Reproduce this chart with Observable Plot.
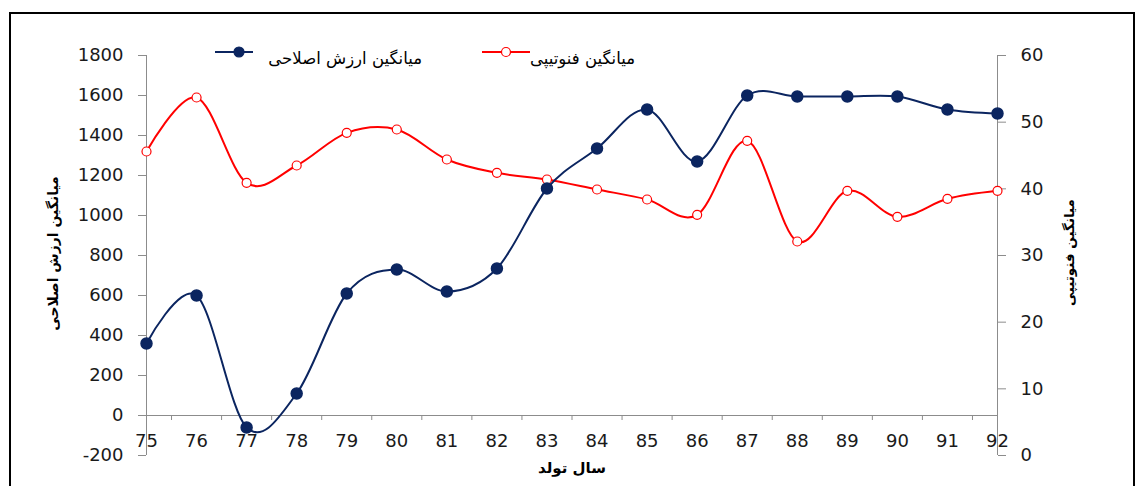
<!DOCTYPE html>
<html>
<head>
<meta charset="utf-8">
<script src="https://cdn.jsdelivr.net/npm/d3@7"></script>
<script src="https://cdn.jsdelivr.net/npm/@observablehq/plot@0.6"></script>
<style>
  html, body { margin: 0; padding: 0; background: #fff; overflow: hidden; }
  #wrap { position: relative; width: 1141px; height: 486px; }
  #frame { position: absolute; left: 9px; top: 12px; width: 1126px; height: 500px; border: 2px solid #000; box-sizing: border-box; pointer-events: none; }
  #chart, #legend { position: absolute; left: 0; top: 0; }
</style>
</head>
<body>
<div id="wrap">
  <div id="chart"></div>
  <svg id="legend" width="1141" height="486"></svg>
  <div id="frame"></div>
</div>
<script>
// ---- data ----
const years = [75, 76, 77, 78, 79, 80, 81, 82, 83, 84, 85, 86, 87, 88, 89, 90, 91, 92];
const breedingValue = [360, 600, -60, 110, 610, 730, 620, 735, 1135, 1335, 1530, 1270, 1600, 1595, 1595, 1595, 1530, 1510];
const phenotypic = [45.6, 53.7, 40.9, 43.5, 48.4, 48.9, 44.4, 42.4, 41.4, 39.9, 38.4, 36.1, 47.2, 32.1, 39.7, 35.8, 38.5, 39.7];
const leftTicks = [-200, 0, 200, 400, 600, 800, 1000, 1200, 1400, 1600, 1800];
const rightTicks = [0, 10, 20, 30, 40, 50, 60];
const xMidTicks = [75.5, 76.5, 77.5, 78.5, 79.5, 80.5, 81.5, 82.5, 83.5, 84.5, 85.5, 86.5, 87.5, 88.5, 89.5, 90.5, 91.5];
const seriesNames = ["میانگین ارزش اصلاحی", "میانگین فنوتیپی"];
const xTitle = "سال تولد";

const blue = "#0b2560";
const red = "#ff0000";
const axisGray = "#8c8c8c";

// map right-axis (0..60) onto left-axis (-200..1800)
const L0 = -200, L1 = 1800, R0 = 0, R1 = 60;
const toLeft = v => L0 + (v - R0) * (L1 - L0) / (R1 - R0);
const toRight = d => Math.round(R0 + (d - L0) * (R1 - R0) / (L1 - L0));

const data = years.map((y, i) => ({ year: y, bv: breedingValue[i], ph: toLeft(phenotypic[i]) }));

const chart = Plot.plot({
  width: 1141,
  height: 486,
  marginLeft: 146,
  marginRight: 144,
  marginTop: 55,
  marginBottom: 31,
  x: { type: "linear", domain: [75, 92] },
  y: { domain: [L0, L1] },
  style: { fontFamily: "DejaVu Sans", fontSize: "18px", color: "#000", background: "transparent" },
  marks: [
    Plot.ruleX([75, 92], { stroke: axisGray, strokeWidth: 1 }),
    Plot.ruleY([0], { stroke: axisGray, strokeWidth: 1 }),
    Plot.axisY({ anchor: "left", ticks: leftTicks, tickSize: 8, tickPadding: 15, stroke: axisGray, fill: "#1a1a1a", tickFormat: d => String(d), label: null }),
    Plot.axisY(rightTicks.map(toLeft), { anchor: "right", tickSize: 8, tickPadding: 15, stroke: axisGray, fill: "#1a1a1a", tickFormat: d => String(toRight(d)), label: null }),
    Plot.axisX({ anchor: "bottom", ticks: years, tickSize: 0, tickPadding: 0, dy: -21, fill: "#1a1a1a", tickFormat: d => String(d), label: null }),
    Plot.axisX({ anchor: "bottom", ticks: xMidTicks, tickSize: 5, dy: -40, stroke: axisGray, tickFormat: () => "", label: null }),
    Plot.text([seriesNames[0]], { frameAnchor: "left", textAnchor: "middle", dx: -93, dy: -2, rotate: -90, fontWeight: "bold", fontSize: 14, fill: "#000" }),
    Plot.text([seriesNames[1]], { frameAnchor: "right", textAnchor: "middle", dx: 72, dy: -3, rotate: -90, fontWeight: "bold", fontSize: 13.5, fill: "#000" }),
    Plot.text([xTitle], { frameAnchor: "bottom", dy: 17, fontWeight: "bold", fontSize: 15, fill: "#000" }),
    Plot.line(data, { x: "year", y: "ph", curve: "cardinal", stroke: red, strokeWidth: 2 }),
    Plot.dot(data, { x: "year", y: "ph", r: 4.5, fill: "#fff", stroke: red, strokeWidth: 1.2 }),
    Plot.line(data, { x: "year", y: "bv", curve: "cardinal", stroke: blue, strokeWidth: 2 }),
    Plot.dot(data, { x: "year", y: "bv", r: 5.5, fill: blue, stroke: blue })
  ]
});
document.getElementById("chart").appendChild(chart);

// ---- legend ----
const lg = d3.select("#legend");
const items = [
  { name: seriesNames[0], x1: 215, x2: 253, cx: 239, textRight: 422, color: blue, fill: blue, r: 5 },
  { name: seriesNames[1], x1: 482, x2: 530, cx: 506, textRight: 635, color: red, fill: "#fff", r: 4.5 }
];
for (const it of items) {
  lg.append("line").attr("x1", it.x1).attr("x2", it.x2).attr("y1", 52).attr("y2", 52)
    .attr("stroke", it.color).attr("stroke-width", 2);
  lg.append("circle").attr("cx", it.cx).attr("cy", 52).attr("r", it.r)
    .attr("fill", it.fill).attr("stroke", it.color).attr("stroke-width", 1.2);
  lg.append("text").attr("x", it.textRight).attr("y", 64).attr("text-anchor", "end")
    .attr("font-family", "DejaVu Sans").attr("font-size", 16.5).attr("fill", "#000").text(it.name);
}
</script>
</body>
</html>
